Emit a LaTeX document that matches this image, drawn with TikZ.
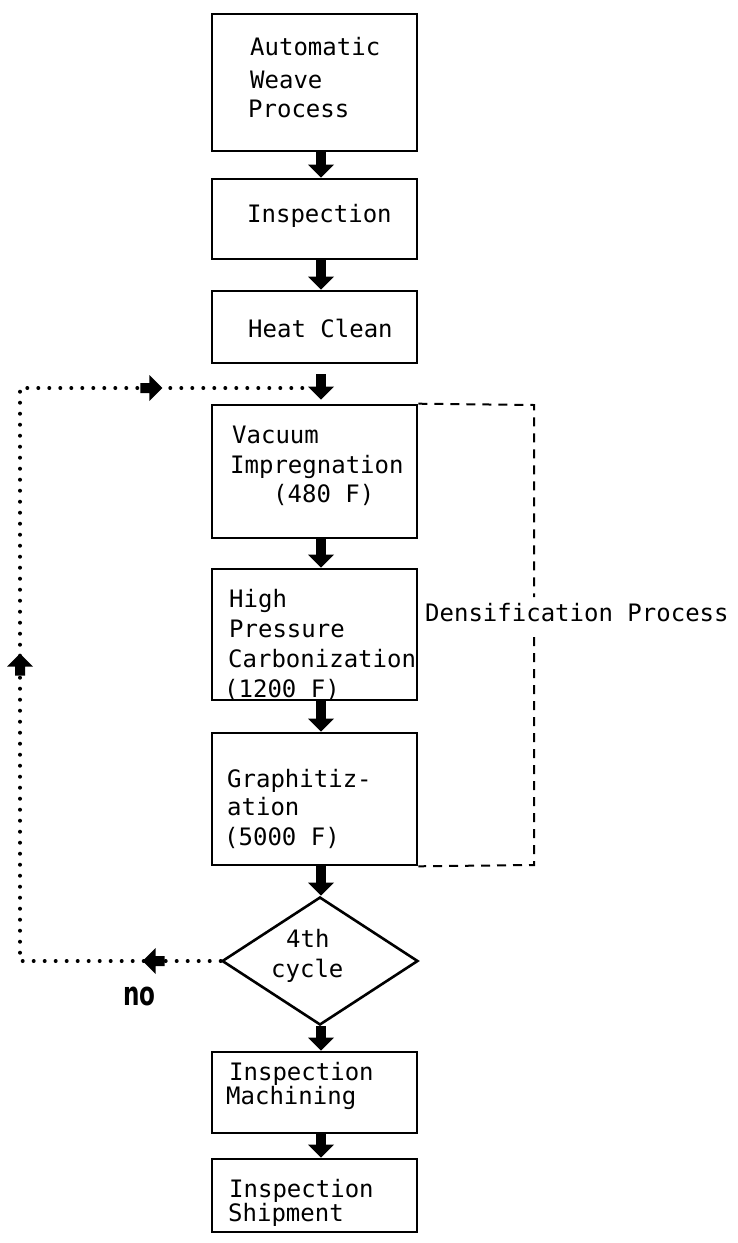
\documentclass[tikz,border=0pt]{standalone}
\usepackage{fontspec}
\usepackage{graphicx}
\usetikzlibrary{arrows.meta,shapes.geometric,decorations.markings}
\newfontfamily\tw{DejaVu Sans Mono}
\newfontfamily\bfsans{DejaVu Sans}
% filled block arrow head used on the dotted return loop (points along +x)
\newcommand\loophead{\fill (-22pt,-5pt) -- (-13pt,-5pt) -- (-13pt,-13pt) -- (0pt,0pt) -- (-13pt,13pt) -- (-13pt,5pt) -- (-22pt,5pt) -- cycle;}
\tikzset{
  stepbox/.style={draw, line width=2.6pt, rectangle, minimum width=205pt, inner sep=0pt},
  txt/.style={anchor=base west, inner sep=0pt, font=\tw\fontsize{24}{24}\selectfont},
  blockarrow/.style={line width=10pt, -{Triangle[width=26pt,length=13pt,line width=0pt]}},
  loopline/.style={line width=4pt, line cap=round, dash pattern=on 0pt off 11pt},
  bracket/.style={line width=2pt, dash pattern=on 9pt off 7pt}
}
\begin{document}
\begin{tikzpicture}[x=1pt,y=-1pt]
\useasboundingbox (0,0) rectangle (737,1243);

% process boxes
\node[stepbox, minimum height=137pt] (b1) at (314.5,82.5) {};
\node[stepbox, minimum height=80pt]  (b2) at (314.5,219) {};
\node[stepbox, minimum height=72pt]  (b3) at (314.5,327) {};
\node[stepbox, minimum height=133pt] (b4) at (314.5,471.5) {};
\node[stepbox, minimum height=131pt] (b5) at (314.5,634.5) {};
\node[stepbox, minimum height=132pt] (b6) at (314.5,799) {};
\node[draw, line width=2.6pt, diamond, minimum width=196pt, minimum height=128pt, inner sep=0pt] (cyc) at (320,961) {};
\node[stepbox, minimum height=81pt]  (b7) at (314.5,1092.5) {};
\node[stepbox, minimum height=73pt]  (b8) at (314.5,1195.5) {};

% box texts
\node[txt] (t1a) at (250,55)  {Automatic};
\node[txt] (t1b) at (250,88)  {Weave};
\node[txt] (t1c) at (248,117) {Process};
\node[txt] (t2)  at (247,222) {Inspection};
\node[txt] (t3)  at (248,337) {Heat Clean};
\node[txt] (t4a) at (232,443) {Vacuum};
\node[txt] (t4b) at (230,473) {Impregnation};
\node[txt] (t4c) at (273,502) {(480 F)};
\node[txt] (t5a) at (229,607) {High};
\node[txt] (t5b) at (229,637) {Pressure};
\node[txt] (t5c) at (228,667) {Carbonization};
\node[txt] (t5d) at (224,697) {(1200 F)};
\node[txt] (t6a) at (227,787) {Graphitiz-};
\node[txt] (t6b) at (227,815) {ation};
\node[txt] (t6c) at (224,845) {(5000 F)};
\node[txt] (tca) at (286,947) {4th};
\node[txt] (tcb) at (271,977) {cycle};
\node[txt] (t7a) at (229,1080) {Inspection};
\node[txt] (t7b) at (226,1104.5) {Machining};
\node[txt] (t8a) at (229,1197) {Inspection};
\node[txt] (t8b) at (228,1221.5) {Shipment};

% main flow arrows
\draw[blockarrow] ([xshift=6.5pt]b1.south) -- ([xshift=6.5pt]b2.north);
\draw[blockarrow] ([xshift=6.5pt]b2.south) -- ([xshift=6.5pt]b3.north);
\draw[blockarrow, shorten <=10pt, shorten >=4pt] ([xshift=6.5pt]b3.south) -- ([xshift=6.5pt]b4.north);
\draw[blockarrow] ([xshift=6.5pt]b4.south) -- ([xshift=6.5pt]b5.north);
\draw[blockarrow] ([xshift=6.5pt]b5.south) -- ([xshift=6.5pt]b6.north);
\draw[blockarrow] ([xshift=6.5pt]b6.south) -- ([xshift=1pt]cyc.north);
\draw[blockarrow] ([xshift=1pt]cyc.south) -- ([xshift=6.5pt]b7.north);
\draw[blockarrow] ([xshift=6.5pt]b7.south) -- ([xshift=6.5pt]b8.north);

% dotted return loop from the decision back to impregnation
\coordinate (loopBL) at (20,961);
\coordinate (loopTL) at (20,388);
\coordinate (loopTR) at (308,388);
\draw[loopline, postaction={decorate, decoration={markings,
    mark=at position 78pt with {\loophead},
    mark=at position 508pt with {\loophead},
    mark=at position 916pt with {\loophead}}}]
  (cyc.west) -- (loopBL) -- (loopTL) -- (loopTR);
\node[anchor=base west, inner sep=0pt, font=\bfsans\bfseries\fontsize{33}{33}\selectfont] (no) at (123,1005) {\scalebox{0.7}[1]{no}};

% dashed bracket around the densification cycle
\coordinate (brTop) at (534,405);
\coordinate (brGapA) at (534,597);
\coordinate (brGapB) at (534,637);
\coordinate (brBot) at (534,865);
\draw[bracket] (b4.north east) -- (brTop) -- (brGapA);
\draw[bracket] (brGapB) -- (brBot) -- (b6.south east);
\node[txt] (dens) at (425,621) {Densification Process};
\end{tikzpicture}
\end{document}
